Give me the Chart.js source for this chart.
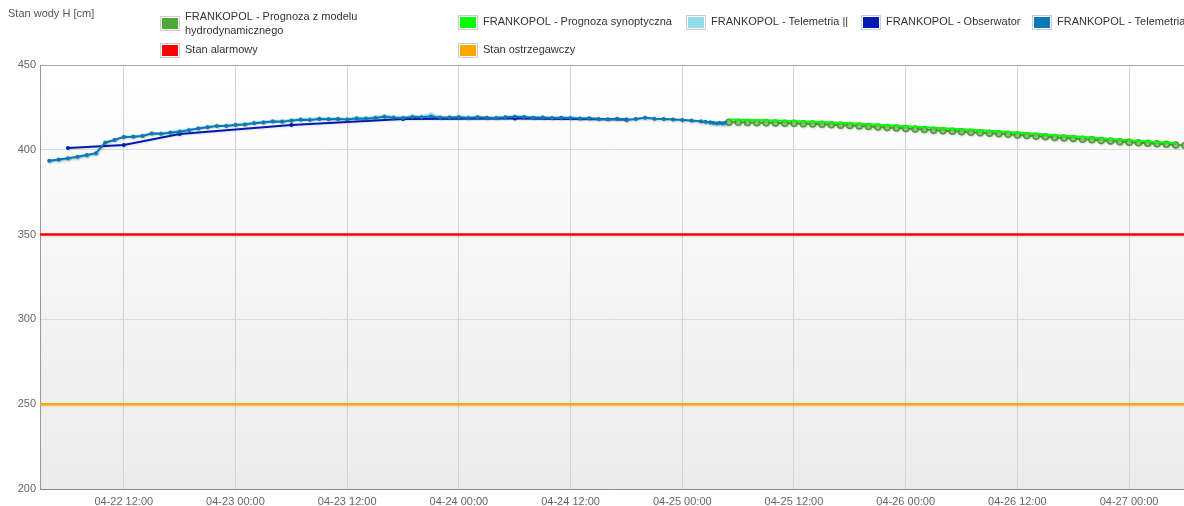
<!DOCTYPE html>
<html><head><meta charset="utf-8">
<script src="https://cdn.jsdelivr.net/npm/chart.js@4.4.1/dist/chart.umd.min.js"></script>
<style>html,body{margin:0;padding:0;background:#fff;}#wrap{width:1184px;height:506px;position:relative;}</style>
</head><body><div id="wrap"><canvas id="c" width="1184" height="506"></canvas></div>
<script>
// ---- data (x in hours since 04-22 00:00) ----
const tickHours  = [12, 24, 36, 48, 60, 72, 84, 96, 108, 120];
const tickLabels = ['04-22 12:00','04-23 00:00','04-23 12:00','04-24 00:00','04-24 12:00','04-25 00:00','04-25 12:00','04-26 00:00','04-26 12:00','04-27 00:00'];
const yTicks = [200, 250, 300, 350, 400, 450];

const telemetryStart = 4; // 04-22 04:00, hourly up to 04-25 02:00
const telemetry = [393.6,394.3,395.0,395.9,396.9,398.0,
  404.3,405.8,407.6,407.7,408.1,409.6,409.4,410.1,410.7,411.6,412.5,413.3,414.1,414.0,414.6,
  414.9,415.7,416.1,416.7,416.6,417.2,417.7,417.5,418.1,418.0,418.1,417.8,
  418.5,418.3,418.8,419.5,418.9,418.7,419.4,419.2,419.7,418.9,419.0,419.2,
  418.8,419.2,418.9,418.7,419.2,419.5,419.4,418.9,419.0,418.7,418.9,418.8,
  418.4,418.6,418.2,418.0,418.3,417.6,418.1,418.9,418.3,418.1,417.9,417.6,
  417.3,416.9];
const telemetryTailHours  = [74.5, 75, 75.33, 75.67, 76, 76.33, 76.6];
const telemetryTailValues = [416.5, 416.2, 415.9, 415.7, 416.0, 415.6, 415.9];

const telemetry2Start = 4;
const telemetry2 = [393.3,393.9,394.6,395.5,396.5,397.6,
  404.0,405.9,407.9,408.0,408.4,409.9,409.8,410.5,411.2,411.9,412.9,413.7,414.4,414.5,415.0,
  415.4,416.2,416.5,417.2,417.2,417.7,418.2,418.1,418.6,418.4,418.6,418.2,
  419.0,418.9,419.3,420.0,419.5,419.2,419.9,419.8,420.9,419.5,419.4,419.7,
  419.2,419.6,419.2,419.0,419.5,419.8,419.7,419.2,419.3,419.0,419.1,419.0,
  418.6,418.8,418.4,418.2,418.5,417.8,418.3,419.0,418.4,418.2,418.0,417.7,
  417.1,416.6];
const telemetry2TailHours  = [74.5, 75, 75.33, 75.67, 76, 76.33, 76.6];
const telemetry2TailValues = [416.1, 415.7, 415.4, 415.2, 415.5, 415.0, 415.3];

const observerHours  = [6, 12, 18, 30, 42, 54, 66];
const observerValues = [401.0, 402.8, 409.3, 414.6, 418.2, 418.4, 417.8];

const hydroStart = 77; // 04-25 05:00, hourly
const hydro = [416.3,416.2,416.1,416.0,415.9,415.8,415.7,415.6,
  415.4,415.2,415.0,414.8,414.5,414.3,414.0,413.7,413.4,413.1,412.8,412.5,
  412.2,411.9,411.6,411.3,411.0,410.7,410.4,410.1,409.8,409.5,409.1,408.7,
  408.4,408.0,407.7,407.3,407.0,406.6,406.2,405.9,405.5,405.2,404.8,404.4,
  404.1,403.8,403.5,403.2,402.9,402.6];
const synopticStart = 77, synopticStep = 3;
const synoptic = [417.9,417.6,417.2,416.6,415.9,415.1,414.2,413.3,412.4,411.5,410.5,409.4,408.3,407.2,406.0,404.9,403.8];

const alarmLevel = 350;
const warningLevel = 250;
const xMin = 3, xMax = 125.9;

const seriesNames = {
  hydro: ['FRANKOPOL - Prognoza z modelu','hydrodynamicznego'],
  synoptic: 'FRANKOPOL - Prognoza synoptyczna',
  tel2: 'FRANKOPOL - Telemetria ||',
  obs: 'FRANKOPOL - Obserwator',
  tel: 'FRANKOPOL - Telemetria',
  alarm: 'Stan alarmowy',
  warn: 'Stan ostrzegawczy'
};

// ---- helpers ----
const seq = (start, step, vals) => vals.map((v, i) => ({x: start + i * step, y: v}));
const pairs = (xs, ys) => xs.map((x, i) => ({x, y: ys[i]}));

const COLORS = {
  hydro: '#4aaa35', synoptic: '#00ff00', tel2: '#94dde6', obs: '#0019b0', tel: '#0a79b5',
  alarm: '#ff0000', warn: '#ffa500'
};

Chart.defaults.font.family = '"Liberation Sans", Arial, sans-serif';
Chart.defaults.font.size = 11;
Chart.defaults.color = '#666';

const bgPlugin = {
  id: 'bg',
  beforeDraw(chart) {
    const {ctx, chartArea: a} = chart;
    const g = ctx.createLinearGradient(0, a.top, 0, a.bottom);
    g.addColorStop(0, '#ffffff');
    g.addColorStop(1, '#ebebeb');
    ctx.save(); ctx.fillStyle = g; ctx.fillRect(a.left, a.top, a.right - a.left, a.bottom - a.top); ctx.restore();
  }
};

const shadowPlugin = {
  id: 'shadow',
  beforeDatasetDraw(chart) {
    const ctx = chart.ctx; ctx.save();
    ctx.shadowColor = 'rgba(0,0,0,0.10)'; ctx.shadowOffsetX = 1; ctx.shadowOffsetY = 1; ctx.shadowBlur = 2;
  },
  afterDatasetDraw(chart) { chart.ctx.restore(); }
};

const legendPlugin = {
  id: 'customLegend',
  afterDraw(chart) {
    const ctx = chart.ctx;
    ctx.save();
    ctx.font = '11px "Liberation Sans", Arial, sans-serif';
    ctx.textBaseline = 'middle';
    ctx.fillStyle = '#555';
    ctx.fillText('Stan wody H [cm]', 8, 14);
    const items = [
      {name: seriesNames.hydro, color: COLORS.hydro, x: 160, y: 23},
      {name: seriesNames.synoptic, color: COLORS.synoptic, x: 458, y: 22},
      {name: seriesNames.tel2, color: COLORS.tel2, x: 686, y: 22},
      {name: seriesNames.obs, color: COLORS.obs, x: 861, y: 22},
      {name: seriesNames.tel, color: COLORS.tel, x: 1032, y: 22},
      {name: seriesNames.alarm, color: COLORS.alarm, x: 160, y: 50},
      {name: seriesNames.warn, color: COLORS.warn, x: 458, y: 50}
    ];
    items.forEach(it => {
      const w = 20, h = 15, top = Math.round(it.y - h / 2);
      ctx.fillStyle = '#ffffff'; ctx.fillRect(it.x, top, w, h);
      ctx.strokeStyle = '#cccccc'; ctx.lineWidth = 1; ctx.strokeRect(it.x + 0.5, top + 0.5, w - 1, h - 1);
      ctx.fillStyle = it.color; ctx.fillRect(it.x + 2, top + 2, w - 4, h - 4);
      ctx.fillStyle = '#333';
      if (Array.isArray(it.name)) {
        ctx.fillText(it.name[0], it.x + 25, it.y - 6);
        ctx.fillText(it.name[1], it.x + 25, it.y + 8);
      } else {
        ctx.fillText(it.name, it.x + 25, it.y);
      }
    });
    ctx.restore();
  }
};

new Chart(document.getElementById('c'), {
  type: 'line',
  data: {
    datasets: [
      {label: seriesNames.tel, data: seq(telemetryStart, 1, telemetry).concat(pairs(telemetryTailHours, telemetryTailValues)),
        borderColor: COLORS.tel, backgroundColor: COLORS.tel,
        borderWidth: 2, pointRadius: 2, pointBorderWidth: 0, tension: 0, order: 1},
      {label: seriesNames.obs, data: pairs(observerHours, observerValues), borderColor: COLORS.obs, backgroundColor: COLORS.obs,
        borderWidth: 2, pointRadius: 2, pointBorderWidth: 0, tension: 0, order: 2},
      {label: seriesNames.tel2, data: seq(telemetry2Start, 1, telemetry2).concat(pairs(telemetry2TailHours, telemetry2TailValues)),
        borderColor: COLORS.tel2, backgroundColor: COLORS.tel2,
        borderWidth: 2, pointRadius: 2, pointBorderWidth: 0, tension: 0, order: 3},
      {label: seriesNames.synoptic, data: seq(synopticStart, synopticStep, synoptic), borderColor: COLORS.synoptic,
        borderWidth: 2, pointRadius: 0, tension: 0, order: 4},
      {label: 'hydro', data: seq(hydroStart, 1, hydro), borderColor: '#4aaa35', backgroundColor: '#92c97e',
        borderWidth: 2, pointRadius: 3, pointBorderWidth: 1.5, pointBorderColor: '#4d9d34', tension: 0, order: 5},
      {label: seriesNames.alarm, data: [{x: xMin, y: alarmLevel}, {x: xMax, y: alarmLevel}], borderColor: COLORS.alarm,
        borderWidth: 2.5, pointRadius: 0, order: 6},
      {label: seriesNames.warn, data: [{x: xMin, y: warningLevel}, {x: xMax, y: warningLevel}], borderColor: COLORS.warn,
        borderWidth: 2.5, pointRadius: 0, order: 7}
    ]
  },
  options: {
    responsive: false, animation: false, devicePixelRatio: 1,
    layout: {padding: {top: 65, left: 0, right: 0, bottom: 0}, autoPadding: false},
    plugins: {legend: {display: false}, tooltip: {enabled: false}, title: {display: false}},
    scales: {
      x: {
        type: 'linear', min: xMin, max: xMax,
        afterBuildTicks: ax => { ax.ticks = tickHours.map(v => ({value: v})); },
        afterFit: s => { s.height = 17; },
        grid: {color: '#d3d3d3', drawTicks: false},
        border: {display: true, color: '#888', width: 1},
        ticks: {padding: 6, maxRotation: 0, autoSkip: false, color: '#666',
          callback: v => tickLabels[tickHours.indexOf(v)] || ''}
      },
      y: {
        min: yTicks[0], max: yTicks[yTicks.length - 1],
        afterBuildTicks: ax => { ax.ticks = yTicks.map(v => ({value: v})); },
        afterFit: s => { s.width = 40; },
        grid: {color: c => (c.tick && c.tick.value === 450) ? '#a8a8a8' : '#dcdcdc', drawTicks: false},
        border: {display: true, color: '#999', width: 1},
        ticks: {padding: 4, color: '#666'}
      }
    }
  },
  plugins: [bgPlugin, shadowPlugin, legendPlugin]
});
</script></body></html>
